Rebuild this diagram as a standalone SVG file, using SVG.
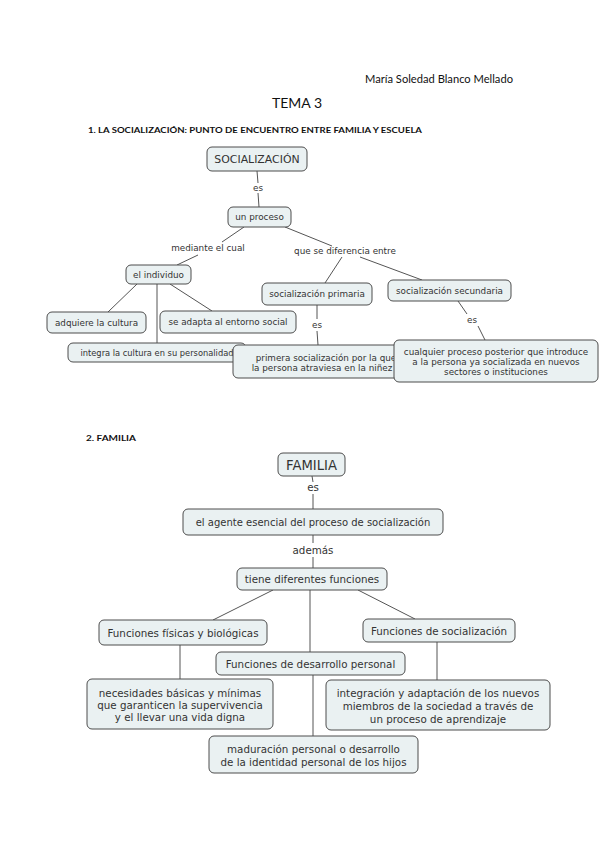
<svg xmlns="http://www.w3.org/2000/svg" width="599" height="848" viewBox="0 0 599 848">
<style>
.n rect{fill:#eaf1f2;stroke:#4d4d4d;stroke-width:1}
.t{font-family:"DejaVu Sans",Verdana,sans-serif;fill:#333;text-anchor:middle}
.s1{font-size:8.8px}
.s2{font-size:10.3px}
.s3{font-size:10.3px}
.h{font-family:Lato,"Liberation Sans",sans-serif;fill:#111}
#conn line{stroke:#555;stroke-width:1}
</style>
<rect width="599" height="848" fill="#fff"/>
<text class="h" x="365" y="83" font-size="10.5" textLength="148" lengthAdjust="spacingAndGlyphs">María Soledad Blanco Mellado</text>
<text class="h" x="297" y="108" font-size="14" text-anchor="middle">TEMA 3</text>
<text class="h" x="88" y="133" font-size="8" font-weight="bold" textLength="334" lengthAdjust="spacingAndGlyphs">1. LA SOCIALIZACIÓN: PUNTO DE ENCUENTRO ENTRE FAMILIA Y ESCUELA</text>
<text class="h" x="86" y="441" font-size="8" font-weight="bold" textLength="50" lengthAdjust="spacingAndGlyphs">2. FAMILIA</text>

<g id="conn">
<line x1="257" y1="171" x2="258" y2="183"/>
<line x1="258" y1="193" x2="259" y2="207"/>
<line x1="244" y1="227" x2="222" y2="242"/>
<line x1="198" y1="255" x2="177" y2="265"/>
<line x1="285" y1="227" x2="332" y2="246"/>
<line x1="342" y1="257" x2="325" y2="283"/>
<line x1="360" y1="257" x2="422" y2="280"/>
<line x1="137" y1="284" x2="108" y2="312"/>
<line x1="157" y1="284" x2="157" y2="343"/>
<line x1="170" y1="284" x2="212" y2="311"/>
<line x1="317" y1="305" x2="317" y2="319"/>
<line x1="317" y1="331" x2="318" y2="345"/>
<line x1="458" y1="301" x2="467" y2="314"/>
<line x1="478" y1="326" x2="485" y2="340"/>
<line x1="312" y1="476" x2="313" y2="482"/>
<line x1="313" y1="494" x2="313" y2="509"/>
<line x1="313" y1="535" x2="313" y2="543"/>
<line x1="313" y1="557" x2="313" y2="568"/>
<line x1="273" y1="590" x2="213" y2="620"/>
<line x1="310" y1="590" x2="310" y2="652"/>
<line x1="358" y1="590" x2="415" y2="619"/>
<line x1="180" y1="645" x2="180" y2="679"/>
<line x1="313" y1="675" x2="313" y2="736"/>
<line x1="437" y1="642" x2="437" y2="680"/>
<text class="t s1" x="258" y="191">es</text>
<text class="t s1" x="208" y="251">mediante el cual</text>
<text class="t s1" x="345" y="254">que se diferencia entre</text>
<text class="t s1" x="317" y="328">es</text>
<text class="t s1" x="472" y="323">es</text>
<text class="t s2" x="313" y="491">es</text>
<text class="t s2" x="313" y="554">además</text>
</g>

<g id="socializacion" class="n"><rect x="207" y="147" width="100" height="24" rx="5"/><text class="t" font-size="10.9" x="257" y="163">SOCIALIZACIÓN</text></g>
<g id="un-proceso" class="n"><rect x="228" y="207" width="63" height="20" rx="5"/><text class="t s1" x="259.5" y="220">un proceso</text></g>
<g id="el-individuo" class="n"><rect x="126" y="265" width="65" height="19" rx="5"/><text class="t s1" x="158.5" y="277.5">el individuo</text></g>
<g id="adquiere" class="n"><rect x="47" y="312" width="99" height="21" rx="5"/><text class="t s1" x="96.5" y="325.5">adquiere la cultura</text></g>
<g id="se-adapta" class="n"><rect x="160" y="311" width="136" height="22" rx="5"/><text class="t s1" x="228" y="325">se adapta al entorno social</text></g>
<g id="integra" class="n"><rect x="68" y="343" width="178" height="19" rx="5"/><text class="t" font-size="8.3" x="157" y="355.5">integra la cultura en su personalidad</text></g>
<g id="soc-primaria" class="n"><rect x="262" y="283" width="110" height="22" rx="5"/><text class="t s1" x="317" y="297">socialización primaria</text></g>
<g id="soc-secundaria" class="n"><rect x="388" y="280" width="123" height="21" rx="5"/><text class="t s1" x="449.5" y="293.5">socialización secundaria</text></g>
<g id="primera" class="n"><rect x="233" y="345" width="178" height="33" rx="5"/><text class="t s1" x="326" y="361">primera socialización por la que</text><text class="t s1" x="322" y="371">la persona atraviesa en la niñez</text></g>
<g id="cualquier" class="n"><rect x="394" y="340" width="204" height="42" rx="5"/><text class="t s1" x="496" y="355">cualquier proceso posterior que introduce</text><text class="t s1" x="496" y="365">a la persona ya socializada en nuevos</text><text class="t s1" x="496" y="375">sectores o instituciones</text></g>

<g id="familia" class="n"><rect x="278" y="453" width="67" height="23" rx="5"/><text class="t" font-size="13.2" x="311.5" y="469.5">FAMILIA</text></g>
<g id="agente" class="n"><rect x="183" y="509" width="260" height="26" rx="5"/><text class="t" font-size="10" x="313" y="525.5">el agente esencial del proceso de socialización</text></g>
<g id="tiene" class="n"><rect x="237" y="568" width="150" height="22" rx="5"/><text class="t s2" x="312" y="582.5">tiene diferentes funciones</text></g>
<g id="fisicas" class="n"><rect x="99" y="620" width="168" height="25" rx="5"/><text class="t s2" x="183" y="636.5">Funciones físicas y biológicas</text></g>
<g id="desarrollo" class="n"><rect x="216" y="652" width="189" height="23" rx="5"/><text class="t s2" x="310.5" y="667.5">Funciones de desarrollo personal</text></g>
<g id="fsocializacion" class="n"><rect x="363" y="619" width="152" height="23" rx="5"/><text class="t s2" x="439" y="634.5">Funciones de socialización</text></g>
<g id="necesidades" class="n"><rect x="87" y="679" width="186" height="50" rx="5"/><text class="t s3" x="180" y="697">necesidades básicas y mínimas</text><text class="t s3" x="180" y="709">que garanticen la supervivencia</text><text class="t s3" x="180" y="721">y el llevar una vida digna</text></g>
<g id="integracion" class="n"><rect x="326" y="680" width="224" height="50" rx="5"/><text class="t s3" x="438" y="697">integración y adaptación de los nuevos</text><text class="t s3" x="438" y="710">miembros  de la sociedad a través de</text><text class="t s3" x="438" y="723">un proceso de aprendizaje</text></g>
<g id="maduracion" class="n"><rect x="209" y="736" width="209" height="37" rx="5"/><text class="t s3" x="313.5" y="752.5">maduración personal o desarrollo</text><text class="t s3" x="313.5" y="765.5">de la identidad personal de los hijos</text></g>
</svg>
